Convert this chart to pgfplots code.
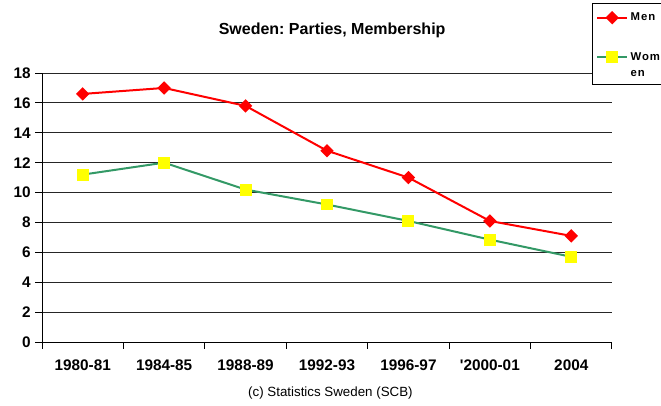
\documentclass[border=0pt]{standalone}
\usepackage{fontspec}
\setmainfont{Liberation Sans}
\newfontfamily\legfont[LetterSpace=8]{Liberation Sans}
\usepackage{pgfplots}
\pgfplotsset{compat=1.18}
\definecolor{menred}{RGB}{255,0,0}
\definecolor{womgreen}{RGB}{51,153,102}
\definecolor{womyellow}{RGB}{255,255,0}
\begin{document}
\begin{tikzpicture}[x=1pt,y=1pt]
\useasboundingbox (0,0) rectangle (495.75,303.75);
\begin{axis}[
  at={(31.5pt,47.25pt)}, anchor=south west,
  scale only axis, width=427.5pt, height=201.75pt,
  xmin=-0.5, xmax=6.5, ymin=0, ymax=18,
  axis x line*=bottom, axis y line*=left,
  axis line style={black, line width=0.75pt},
  xtick={0,...,6},
  xticklabels={1980-81,1984-85,1988-89,1992-93,1996-97,\textquotesingle 2000-01,2004},
  minor xtick={-0.5,0.5,...,6.5},
  ytick={0,2,...,18},
  ymajorgrids,
  major grid style={black!85, line width=0.75pt},
  tick align=outside,
  major tick length=5pt, minor tick length=5pt,
  major x tick style={draw=none},
  every tick/.style={black, line width=0.75pt},
  tick label style={font=\bfseries\fontsize{11.5}{13}\selectfont},
  /pgf/number format/assume math mode=true,
  xticklabel style={yshift=-5pt},
  title={Sweden:\ Parties, Membership},
  title style={at={(0.509,1.13)}, anchor=center, yshift=0pt, font=\bfseries\fontsize{12}{14}\selectfont},
  legend style={at={(0.965,1.26)}, anchor=north west, draw=black, line width=0.6pt,
    fill=white, font=\legfont\bfseries\fontsize{8.5}{10}\selectfont,
    row sep=7.7pt, inner xsep=3pt, inner ysep=5pt},
  legend cell align=left,
  legend image code/.code={\draw[mark repeat=2,mark phase=2] plot coordinates {(0cm,0cm)(0.39cm,0cm)(0.78cm,0cm)};},
  clip=false,
]
\addplot[menred, line width=1.5pt, mark=square*, mark size=2.8pt,
  mark options={fill=menred, draw=menred, rotate=45, solid}]
  coordinates {(0,16.6)(1,17.0)(2,15.8)(3,12.8)(4,11.0)(5,8.1)(6,7.1)};
\addlegendentry{Men}
\addplot[womgreen, line width=1.5pt, mark=square*, mark size=3.7pt,
  mark options={fill=womyellow, draw=womyellow, solid}]
  coordinates {(0,11.2)(1,12.0)(2,10.2)(3,9.2)(4,8.1)(5,6.85)(6,5.7)};
\addlegendentry[text height=17pt, text depth=11pt]{\begin{tabular}[t]{@{}l@{}}Wom\\[2pt]en\end{tabular}}
\node[font=\fontsize{10}{12}\selectfont] at (rel axis cs:0.506,-0.19) {(c) Statistics Sweden (SCB)};
\end{axis}
\end{tikzpicture}
\end{document}
